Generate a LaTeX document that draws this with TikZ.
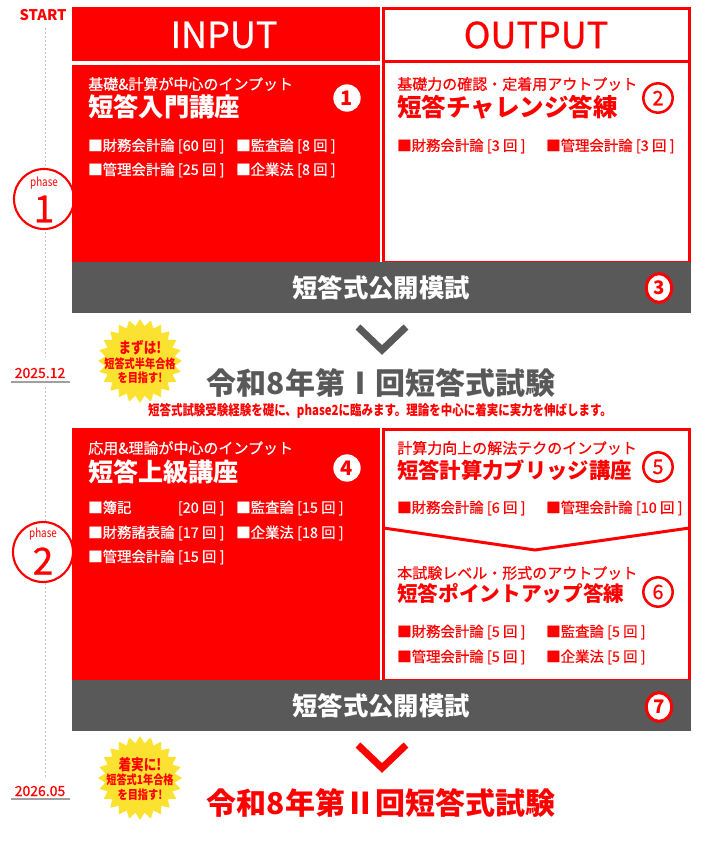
\documentclass[tikz,border=0pt]{standalone}
\usepackage{fontspec}
\setmainfont{Noto Sans CJK JP}
\newfontfamily\narrowfont{Noto Sans CJK JP}[FakeStretch=0.82]
\newfontfamily\mediumfont{Noto Sans CJK JP}[FakeBold=0.7]
\usetikzlibrary{shapes.geometric}

\definecolor{mainred}{RGB}{255,0,0}
\definecolor{bargray}{RGB}{89,89,89}
\definecolor{dotgray}{RGB}{190,190,190}
\definecolor{rulegray}{RGB}{160,160,160}
\definecolor{badgeyellow}{RGB}{252,226,48}

\begin{document}
\begin{tikzpicture}[
    x=0.75pt, y=-0.75pt,
    lead/.style = {anchor=west, inner sep=0, font=\mediumfont\fontsize{11.25}{13}\selectfont},
    course/.style = {anchor=west, inner sep=0, font=\fontsize{19}{22}\selectfont\bfseries},
    item/.style = {anchor=west, inner sep=0, font=\mediumfont\fontsize{10.8}{13}\selectfont},
    header/.style = {inner sep=0, font=\mediumfont\fontsize{27}{30}\selectfont},
    outline/.style = {draw=mainred, line width=2.25pt, line join=miter},
    numdot/.style = {circle, fill=white, inner sep=0, minimum size=20.5pt,
      text=mainred, font=\fontsize{15}{15}\selectfont\bfseries},
    numring/.style = {circle, draw=mainred, line width=1.9pt, fill=white,
      inner sep=0, minimum size=22pt, text=mainred, font=\mediumfont\fontsize{15}{15}\selectfont},
    numbar/.style = {ellipse, draw=mainred, line width=2.25pt, fill=white,
      inner sep=0, minimum width=19pt, minimum height=21.5pt, text=mainred,
      font=\fontsize{14}{14}\selectfont\bfseries},
    phase/.style = {circle, draw=mainred, line width=1.6pt, fill=white,
      minimum size=45pt, inner sep=0},
    phaseword/.style = {text=mainred, inner sep=0, font=\narrowfont\fontsize{9}{9}\selectfont},
    phasenum/.style = {text=mainred, inner sep=0, font=\mediumfont\fontsize{28}{28}\selectfont},
    mocktext/.style = {text=white, inner sep=0, font=\fontsize{19}{22}\selectfont\bfseries},
    datelabel/.style = {text=mainred, inner sep=0, font=\mediumfont\fontsize{10.5}{12}\selectfont},
    timeline/.style = {dotgray, line width=0.75pt, dash pattern=on 1.5pt off 1.5pt},
    dateline/.style = {rulegray, line width=1.5pt},
    badge/.style = {star, star points=24, star point ratio=1.2, fill=badgeyellow,
      minimum size=63pt, inner sep=0},
    badgetext/.style = {text=mainred, align=center, inner sep=0,
      font=\narrowfont\bfseries\fontsize{9.3}{10.9}\selectfont},
    exam/.style = {inner sep=0, font=\fontsize{22.5}{26}\selectfont\bfseries},
    note/.style = {text=mainred, inner sep=0, font=\narrowfont\bfseries\fontsize{10.5}{12}\selectfont},
    chevron/.style = {line width=5.25pt, line join=miter}
]
  \useasboundingbox (0,0) rectangle (723,867);

  % time line on the left
  \node (start) [text=mainred, inner sep=0, font=\fontsize{11}{12}\selectfont\bfseries] at (43,15) {START};
  \node (date1) [datelabel] at (40,373) {2025.12};
  \node (date2) [datelabel] at (40,791) {2026.05};
  \coordinate (tlA) at (45,28);
  \coordinate (tlB) at (45,357);
  \coordinate (tlC) at (45,387);
  \coordinate (tlD) at (45,777);
  \draw[timeline] (tlA) -- (tlB);
  \draw[timeline] (tlC) -- (tlD);
  \draw[dateline] (11,382) -- (70,382);
  \draw[dateline] (11,799) -- (70,799);

  \node (phase1)    [phase] at (44,199) {};
  \node (phase1lbl) [phaseword] at (44,183) {phase};
  \node (phase1num) [phasenum] at (44,209) {1};
  \node (phase2)    [phase] at (43,552) {};
  \node (phase2lbl) [phaseword] at (43,534) {phase};
  \node (phase2num) [phasenum] at (43,561) {2};

  % phase 1
  \fill[mainred] (72,7) rectangle (380,61);
  \fill[mainred] (72,65) rectangle (380,262);
  \draw[outline] (383.5,8.5) rectangle (689.5,262);
  \draw[outline] (383.5,62) -- (689.5,62);
  \node (inHead)  [header, text=white] at (224,35) {INPUT};
  \node (outHead) [header, text=mainred] at (536,35) {OUTPUT};

  \node (lead1)   [lead, text=white] at (88,84) {基礎\&計算が中心のインプット};
  \node (course1) [course, text=white] at (88,107) {短答入門講座};
  \node (num1)    [numdot] at (347,98) {1};
  \node (item1a)  [item, text=white] at (88,146) {■財務会計論 [60 回 ]};
  \node (item1b)  [item, text=white] at (236,146) {■監査論 [8 回 ]};
  \node (item1c)  [item, text=white] at (88,170) {■管理会計論 [25 回 ]};
  \node (item1d)  [item, text=white] at (236,170) {■企業法 [8 回 ]};

  \node (lead2)   [lead, text=mainred] at (397,84) {基礎力の確認・定着用アウトプット};
  \node (course2) [course, text=mainred, font=\fontsize{18.4}{22}\selectfont\bfseries] at (397,107) {短答チャレンジ答練};
  \node (num2)    [numring] at (658,98) {2};
  \node (item2a)  [item, text=mainred] at (397,146) {■財務会計論 [3 回 ]};
  \node (item2b)  [item, text=mainred] at (546,146) {■管理会計論 [3 回 ]};

  \fill[bargray] (72,262) rectangle (691,313);
  \node (mock1) [mocktext] at (381,288) {短答式公開模試};
  \node (num3)  [numbar] at (659,288) {3};

  \draw[chevron, bargray] (mock1) ++(-23,39) -- ++(24,23) -- ++(24,-23);

  \node (badge1)    [badge] at (140,361) {};
  \node (badge1txt) [badgetext] at (140,362) {{\fontsize{11.5}{12}\selectfont まずは!}\\短答式半年合格\\を目指す!};
  \node (exam1) [exam, text=bargray] at (381,383) {令和8年第Ⅰ回短答式試験};
  \node (note1) [note] at (380,411) {短答式試験受験経験を礎に、phase2に臨みます。理論を中心に着実に実力を伸ばします。};

  % phase 2
  \fill[mainred] (72,428) rectangle (380,680);
  \draw[outline] (383.5,429.5) rectangle (689.5,680);
  \draw[outline] (383.5,528) -- (535,550) -- (689.5,528);

  \node (lead4)   [lead, text=white] at (88,448) {応用\&理論が中心のインプット};
  \node (course4) [course, text=white, font=\fontsize{18.8}{22}\selectfont\bfseries] at (88,472) {短答上級講座};
  \node (num4)    [numdot] at (347,468) {4};
  \node (item4a)  [item, text=white] at (88,508) {\makebox[6em][l]{■簿記} [20 回 ]};
  \node (item4b)  [item, text=white] at (236,508) {■監査論 [15 回 ]};
  \node (item4c)  [item, text=white] at (88,533) {■財務諸表論 [17 回 ]};
  \node (item4d)  [item, text=white] at (236,533) {■企業法 [18 回 ]};
  \node (item4e)  [item, text=white] at (88,557) {■管理会計論 [15 回 ]};

  \node (lead5)   [lead, text=mainred] at (397,448) {計算力向上の解法テクのインプット};
  \node (course5) [course, text=mainred, font=\fontsize{16}{20}\selectfont\bfseries] at (397,470) {短答計算力ブリッジ講座};
  \node (num5)    [numring] at (658,467) {5};
  \node (item5a)  [item, text=mainred] at (397,508) {■財務会計論 [6 回 ]};
  \node (item5b)  [item, text=mainred] at (546,508) {■管理会計論 [10 回 ]};

  \node (lead6)   [lead, text=mainred] at (397,573) {本試験レベル・形式のアウトプット};
  \node (course6) [course, text=mainred, font=\fontsize{15.5}{20}\selectfont\bfseries] at (397,594) {短答ポイントアップ答練};
  \node (num6)    [numring] at (658,592) {6};
  \node (item6a)  [item, text=mainred] at (397,632) {■財務会計論 [5 回 ]};
  \node (item6b)  [item, text=mainred] at (546,632) {■監査論 [5 回 ]};
  \node (item6c)  [item, text=mainred] at (397,657) {■管理会計論 [5 回 ]};
  \node (item6d)  [item, text=mainred] at (546,657) {■企業法 [5 回 ]};

  \fill[bargray] (72,680) rectangle (691,731);
  \node (mock2) [mocktext] at (381,706) {短答式公開模試};
  \node (num7)  [numbar] at (659,707) {7};

  \draw[chevron, mainred] (mock2) ++(-23,39) -- ++(24,23) -- ++(24,-23);

  \node (badge2)    [badge] at (140,778) {};
  \node (badge2txt) [badgetext] at (140,779) {{\fontsize{11.5}{12}\selectfont 着実に!}\\短答式1年合格\\を目指す!};
  \node (exam2) [exam, text=mainred] at (381,803) {令和8年第Ⅱ回短答式試験};

\end{tikzpicture}
\end{document}
